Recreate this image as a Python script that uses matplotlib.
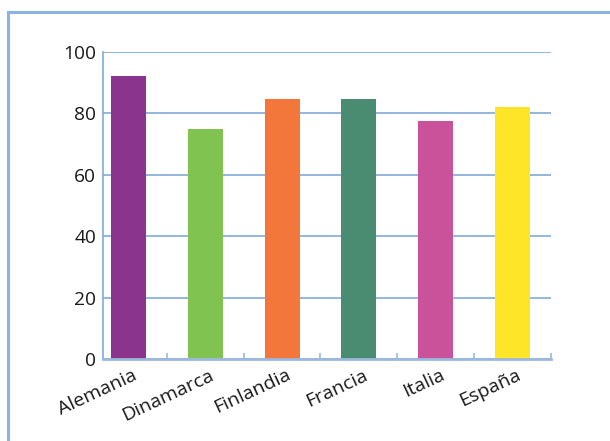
import matplotlib
matplotlib.use("Agg")
import matplotlib.pyplot as plt
from matplotlib.patches import Rectangle
from matplotlib.ticker import FixedLocator
import matplotlib.transforms as mtransforms

countries = ["Alemania", "Dinamarca", "Finlandia", "Francia", "Italia", "España"]
values = [92.2, 74.8, 84.8, 84.8, 77.6, 82.2]
colors = ["#8B348D", "#80C350", "#F3773B", "#4A8C72", "#C9529B", "#FFE528"]
yticks = [0, 20, 40, 60, 80, 100]

plt.rcParams['font.family'] = ['Open Sans', 'DejaVu Sans']

fig = plt.figure(figsize=(6.1, 4.41), dpi=100)
fig.patch.set_facecolor("white")

# outer frame
fig.patches.append(Rectangle((8 / 610, -0.05), 1.0, (441 - 12) / 441 + 0.05,
                             transform=fig.transFigure, fill=False,
                             edgecolor="#8DB3E2", linewidth=2.2, zorder=0))

ax = fig.add_axes([103 / 610, 82 / 441, 448 / 610, 307 / 441])
x = list(range(len(countries)))
ax.bar(x, values, width=0.456, color=colors, zorder=3)

ax.set_xlim(-0.33, 5.5)
ax.set_ylim(0, 100)

ax.set_yticks(yticks)
ax.set_yticklabels([str(v) for v in yticks])
ax.yaxis.grid(True, color="#7FAAD8", linewidth=1.2, zorder=0)
ax.tick_params(axis="y", length=0, pad=5, labelsize=13.8, colors="#1a1a1a")

ax.set_xticks(x)
ax.set_xticklabels(countries, rotation=25, ha="right", va="top",
                   rotation_mode="anchor", fontsize=14, color="#1a1a1a")
ax.tick_params(axis="x", which="major", length=0, pad=5)
ax.xaxis.set_minor_locator(FixedLocator([0.5, 1.5, 2.5, 3.5, 4.5, 5.5]))
ax.tick_params(axis="x", which="minor", direction="in", length=4.5,
               width=1.2, color="#9AB9DD")
offset = mtransforms.ScaledTranslation(4 / 100, 0, fig.dpi_scale_trans)
for lbl in ax.get_xticklabels():
    lbl.set_transform(lbl.get_transform() + offset)

for s in ["top", "right"]:
    ax.spines[s].set_visible(False)
ax.spines["left"].set_color("#7FAAD8")
ax.spines["left"].set_linewidth(1.2)
ax.spines["bottom"].set_color("#9AB9DD")
ax.spines["bottom"].set_linewidth(2)
ax.spines["bottom"].set_zorder(4)

fig.savefig("out.png", dpi=100, facecolor="white")
